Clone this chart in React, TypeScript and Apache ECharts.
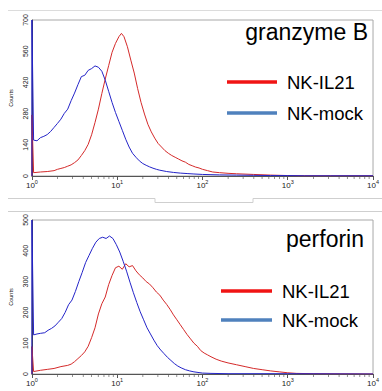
import React, { useEffect, useRef } from "react";
import * as echarts from "echarts";

// log10 fluorescence positions and counts, granzyme B panel
const gzbMockExp = [0.02,0.06,0.10,0.14,0.18,0.22,0.26,0.30,0.34,0.38,0.42,0.46,0.50,0.54,0.58,0.62,0.66,0.70,0.74,0.78,0.82,0.86,0.90,0.94,0.98,1.02,1.06,1.10,1.14,1.18,1.22,1.26,1.30,1.34,1.38,1.42,1.46,1.50,1.58,1.66,1.74,1.82,1.90,2.00,2.10,2.20,2.40,2.60,2.80,3.00,3.20,3.50,4.00];
const gzbMockVal = [161,158,172,178,186,200,218,236,255,281,300,338,372,410,446,452,474,482,494,488,470,430,380,330,285,245,205,165,130,102,84,68,56,48,41,35,30,26,20,16,13,11,9,7,6,5,4,3,2,2,1,1,1];
const gzbIl21Exp = [0.02,0.10,0.18,0.26,0.30,0.34,0.38,0.42,0.46,0.50,0.54,0.58,0.62,0.66,0.70,0.74,0.78,0.82,0.86,0.90,0.94,0.98,1.02,1.05,1.08,1.12,1.16,1.20,1.24,1.28,1.32,1.36,1.40,1.44,1.48,1.52,1.56,1.60,1.64,1.68,1.72,1.76,1.80,1.84,1.88,1.92,1.96,2.00,2.06,2.12,2.20,2.30,2.40,2.60,2.80,3.00,3.20,4.00];
const gzbIl21Val = [15,18,20,24,30,34,38,44,50,60,72,92,114,142,185,240,300,370,435,495,555,595,625,640,625,580,520,462,392,330,278,232,198,170,146,130,114,102,92,84,76,68,62,52,46,40,36,30,24,18,15,12,10,7,4,2,1,1];
const gzbMockSpike = 700;
const gzbIl21Spike = 274;

// perforin panel
const prfMockExp = [0.02,0.06,0.10,0.15,0.19,0.23,0.27,0.31,0.35,0.39,0.43,0.47,0.51,0.55,0.59,0.63,0.67,0.71,0.75,0.79,0.83,0.87,0.91,0.95,0.99,1.03,1.07,1.11,1.15,1.19,1.23,1.27,1.31,1.35,1.39,1.43,1.47,1.51,1.55,1.59,1.63,1.67,1.71,1.75,1.80,1.85,1.90,2.00,2.10,2.30,3.00,4.00];
const prfMockVal = [127,130,132,134,142,148,156,168,180,200,225,240,268,300,330,362,385,408,428,440,444,440,448,440,420,396,366,334,298,264,232,202,176,150,130,110,92,78,66,54,44,34,26,20,14,10,7,3,2,1,1,0];
const prfIl21Exp = [0.02,0.10,0.18,0.26,0.34,0.42,0.46,0.50,0.54,0.58,0.62,0.66,0.70,0.74,0.78,0.82,0.86,0.90,0.94,0.98,1.02,1.06,1.10,1.14,1.18,1.22,1.26,1.30,1.34,1.38,1.42,1.46,1.50,1.54,1.58,1.62,1.66,1.70,1.74,1.78,1.82,1.86,1.90,1.94,1.98,2.02,2.06,2.10,2.16,2.22,2.30,2.40,2.50,2.60,2.70,2.80,2.90,3.00,3.10,3.30,4.00];
const prfIl21Val = [8,12,15,18,24,28,32,40,50,60,72,90,118,150,195,228,250,290,320,345,350,340,358,348,352,335,322,312,300,292,280,266,256,240,226,210,192,176,160,144,128,114,100,90,76,68,62,56,48,42,36,30,24,18,14,10,7,4,2,1,0];
const prfMockSpike = 500;
const prfIl21Spike = 89;

const seriesNames = ["NK-IL21", "NK-mock"];
const panelTitles = ["granzyme B", "perforin"];
const yMax = [700, 500];
const yStep = [140, 100];

const RED = "#d42a2a";
const BLUE = "#2424c8";
const FONT = "Liberation Sans, Arial, sans-serif";

const minorTicks: number[] = [];
for (let n = 0; n < 4; n++) for (let k = 2; k <= 9; k++) minorTicks.push(k * Math.pow(10, n));

function toData(exp: number[], val: number[], spike: number) {
  const d: number[][] = [[1, 0], [1, spike]];
  exp.forEach((e, i) => d.push([Math.pow(10, e), val[i]]));
  return d;
}

export default function App() {
  const ref = useRef<HTMLDivElement>(null);
  useEffect(() => {
    if (!ref.current) return;
    const chart = echarts.init(ref.current, null, { renderer: "svg" });
    const grids = [
      { left: 30, right: 3, top: 20, height: 156, show: true, borderColor: "#a8a8a8", borderWidth: 1 },
      { left: 30, right: 3, top: 220, height: 154, show: true, borderColor: "#a8a8a8", borderWidth: 1 },
    ];
    const xAxes = [0, 1].map((i) => ({
      type: "log",
      logBase: 10,
      min: 1,
      max: 10000,
      gridIndex: i,
      axisLine: { show: true, lineStyle: { color: "#555", width: 1 } },
      axisTick: { show: true, length: 4, lineStyle: { color: "#555" } },
      splitLine: { show: false },
      axisLabel: {
        margin: 3,
        formatter: (v: number) => `{b|10}{s|${Math.round(Math.log10(v))}}`,
        rich: {
          b: { fontSize: 8, lineHeight: 10, verticalAlign: "bottom", fontFamily: FONT, color: "#222" },
          s: { fontSize: 5.5, lineHeight: 6, verticalAlign: "top", fontFamily: FONT, color: "#222" },
        },
      },
    }));
    const yAxes = [0, 1].map((i) => ({
      type: "value",
      gridIndex: i,
      min: 0,
      max: yMax[i],
      interval: yStep[i],
      name: "Counts",
      nameLocation: "middle",
      nameGap: 15,
      nameTextStyle: { fontSize: 5.5, fontFamily: FONT, color: "#222" },
      axisLine: { show: true, lineStyle: { color: "#444" } },
      axisTick: { show: false },
      splitLine: { show: false },
      axisLabel: { rotate: 90, fontSize: 7, margin: 3, fontFamily: FONT, color: "#222" },
    }));
    const mk = (name: string, data: number[][], color: string, idx: number) => ({
      type: "line",
      name,
      xAxisIndex: idx,
      yAxisIndex: idx,
      data,
      showSymbol: false,
      symbol: "none",
      color,
      lineStyle: { color, width: 1 },
      clip: true,
      z: name === "NK-mock" ? 3 : 2,
    });
    const ticks = (idx: number) => ({
      type: "scatter",
      name: "minor",
      xAxisIndex: idx,
      yAxisIndex: idx,
      data: minorTicks.map((v) => [v, 0]),
      symbol: "rect",
      symbolSize: [0.8, 3],
      symbolOffset: [0, 1.5],
      itemStyle: { color: "#555" },
      silent: true,
      clip: false,
      z: 5,
    });
    const legendData = [
      { name: seriesNames[0], itemStyle: { color: "#f01414" } },
      { name: seriesNames[1], itemStyle: { color: "#4f81bd" } },
    ];
    const legendBase = {
      orient: "vertical",
      icon: "rect",
      itemHeight: 3.5,
      selectedMode: false,
      data: legendData,
      padding: 0,
      textStyle: { fontSize: 18.5, lineHeight: 20, fontFamily: FONT, color: "#000", padding: [0, 0, 0, 5] },
    };
    chart.setOption({
      animation: false,
      backgroundColor: "#fff",
      grid: grids,
      xAxis: xAxes,
      yAxis: yAxes,
      title: [
        { text: panelTitles[0], right: 14, top: 20, padding: 0, textStyle: { fontSize: 23, fontWeight: "normal", fontFamily: FONT, color: "#000" } },
        { text: panelTitles[1], right: 18, top: 227, padding: 0, textStyle: { fontSize: 23, fontWeight: "normal", fontFamily: FONT, color: "#000" } },
      ],
      legend: [
        { ...legendBase, left: 227, top: 72, itemWidth: 50, itemGap: 11 },
        { ...legendBase, left: 221, top: 281, itemWidth: 51, itemGap: 9 },
      ],
      graphic: [
        { type: "polyline", shape: { points: [[8, 10.5], [382, 10.5]] }, style: { stroke: "#dcdcdc", lineWidth: 1, fill: "none" } },
        { type: "polyline", shape: { points: [[8, 198.5], [155, 198.5], [155, 202.5], [253, 202.5], [253, 198.5], [382, 198.5]] }, style: { stroke: "#cfcfcf", lineWidth: 1, fill: "none" } },
        { type: "polyline", shape: { points: [[8, 211.5], [382, 211.5]] }, style: { stroke: "#cfcfcf", lineWidth: 1, fill: "none" } },
      ],
      series: [
        mk(seriesNames[0], toData(gzbIl21Exp, gzbIl21Val, gzbIl21Spike), RED, 0),
        mk(seriesNames[1], toData(gzbMockExp, gzbMockVal, gzbMockSpike), BLUE, 0),
        mk(seriesNames[0], toData(prfIl21Exp, prfIl21Val, prfIl21Spike), RED, 1),
        mk(seriesNames[1], toData(prfMockExp, prfMockVal, prfMockSpike), BLUE, 1),
        ticks(0),
        ticks(1),
      ],
    });
    return () => chart.dispose();
  }, []);
  return <div ref={ref} style={{ width: 382, height: 391, position: "absolute", left: 0, top: 0 }} />;
}
